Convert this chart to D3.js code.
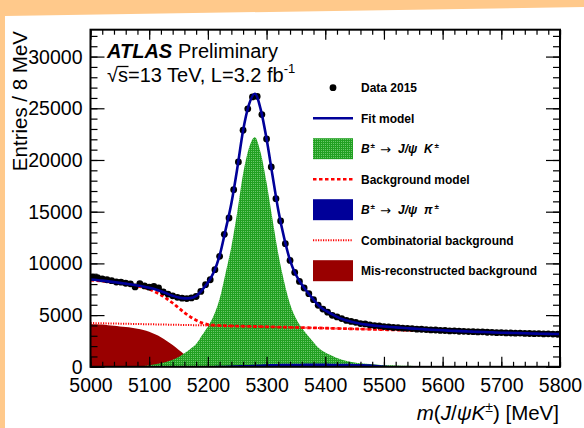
<!DOCTYPE html>
<html>
<head>
<meta charset="utf-8">
<script src="https://cdn.jsdelivr.net/npm/d3@7"></script>
<style>
  body { margin: 0; background: #ffc98b; }
  svg { display: block; font-family: "Liberation Sans", Arial, Helvetica, sans-serif; }
</style>
</head>
<body>
<svg id="chart" width="584" height="428"></svg>
<script>
// ---- data ----
// histogram: 100 bins of 8 MeV, centres 5004 ... 5796
var binCentres = d3.range(5004, 5800, 8);
var dataCounts = [8680, 8620, 8500, 8420, 8330, 8200, 8180, 8080, 8020, 7720,
    8050, 7820, 7700, 7780, 7620, 7250, 7030, 6860, 6720, 6640,
    6600, 6660, 6800, 7290, 7940, 8420, 9390, 10680, 12810, 14390,
    17130, 19810, 22880, 24950, 26100, 26150, 24390, 22040, 19330, 16260,
    14100, 11910, 10290, 9130, 8260, 7620, 7070, 6490, 5950, 5580,
    5280, 4980, 4820, 4660, 4480, 4390, 4300, 4180, 4150, 4050,
    3990, 3960, 3890, 3860, 3800, 3790, 3740, 3720, 3700, 3640,
    3630, 3600, 3570, 3560, 3520, 3510, 3470, 3480, 3440, 3430,
    3410, 3400, 3370, 3380, 3340, 3330, 3300, 3310, 3280, 3270,
    3250, 3260, 3230, 3220, 3200, 3210, 3180, 3190, 3160, 3150];

// model curves sampled every 10 MeV, 5000 ... 5800
var curveMass = d3.range(5000, 5801, 10);
var fitModel = [8450, 8400, 8330, 8260, 8190, 8120, 8040, 7960, 7870, 7770,
    7650, 7500, 7300, 7080, 6870, 6700, 6620, 6640, 6850, 7420,
    8150, 9150, 10750, 13200, 15800, 19150, 22850, 25350, 26400, 24900,
    22050, 18550, 15150, 12450, 10300, 8900, 7950, 7200, 6500, 5850,
    5450, 5130, 4830, 4600, 4420, 4280, 4170, 4080, 4010, 3950,
    3900, 3850, 3810, 3770, 3730, 3690, 3660, 3620, 3590, 3560,
    3530, 3500, 3475, 3450, 3425, 3400, 3380, 3360, 3340, 3320,
    3300, 3285, 3270, 3255, 3240, 3225, 3210, 3195, 3180, 3170,
    3160];
var signalK = [20, 25, 30, 33, 36, 40, 44, 50, 58, 85,
    155, 250, 340, 480, 670, 940, 1300, 1720, 2200, 3050,
    3900, 4950, 6570, 9020, 11620, 14960, 18660, 21150, 22190, 20690,
    17830, 14320, 10930, 8230, 6080, 4700, 3770, 3040, 2380, 1760,
    1390, 1110, 840, 660, 510, 415, 340, 285, 240, 205,
    175, 150, 130, 112, 97, 85, 75, 66, 58, 52,
    47, 43, 40, 37, 34, 32, 30, 28, 26, 24,
    22, 21, 20, 19, 18, 17, 16, 15, 14, 13,
    12];
var signalPi = [0, 0, 0, 0, 0, 0, 0, 0, 0, 0,
    0, 0, 0, 0, 0, 5, 15, 25, 35, 50,
    65, 80, 95, 110, 125, 145, 165, 185, 205, 225,
    245, 260, 275, 285, 295, 300, 305, 308, 310, 310,
    308, 305, 300, 293, 285, 275, 262, 245, 220, 185,
    135, 75, 25, 0, 0, 0, 0, 0, 0, 0,
    0, 0, 0, 0, 0, 0, 0, 0, 0, 0,
    0, 0, 0, 0, 0, 0, 0, 0, 0, 0,
    0];
var combBkg = [4230, 4218, 4207, 4195, 4184, 4172, 4161, 4149, 4138, 4126,
    4115, 4103, 4092, 4080, 4069, 4057, 4046, 4034, 4023, 4011,
    4000, 3987, 3974, 3961, 3948, 3935, 3922, 3909, 3896, 3883,
    3870, 3857, 3844, 3830, 3817, 3804, 3790, 3777, 3763, 3750,
    3736, 3722, 3708, 3694, 3680, 3666, 3652, 3637, 3623, 3609,
    3594, 3580, 3565, 3550, 3536, 3521, 3506, 3491, 3476, 3461,
    3446, 3431, 3416, 3400, 3385, 3370, 3354, 3339, 3323, 3308,
    3292, 3277, 3261, 3245, 3230, 3214, 3198, 3182, 3166, 3150,
    3134];
var misrecBkg = [4150, 4120, 4080, 4030, 3970, 3900, 3840, 3770, 3680, 3560,
    3380, 3140, 2860, 2500, 2100, 1650, 1200, 800, 480, 240,
    90, 40, 15, 5, 0, 0, 0, 0, 0, 0,
    0, 0, 0, 0, 0, 0, 0, 0, 0, 0,
    0, 0, 0, 0, 0, 0, 0, 0, 0, 0,
    0, 0, 0, 0, 0, 0, 0, 0, 0, 0,
    0, 0, 0, 0, 0, 0, 0, 0, 0, 0,
    0, 0, 0, 0, 0, 0, 0, 0, 0, 0,
    0];
// background model = combinatorial + mis-reconstructed
var bkgModel = combBkg.map(function (d, i) { return d + misrecBkg[i]; });

var yTickValues = [0, 5000, 10000, 15000, 20000, 25000, 30000];
var xTickValues = [5000, 5100, 5200, 5300, 5400, 5500, 5600, 5700, 5800];

// ---- svg & scales ----
var svg = d3.select("#chart");

svg.append("polygon")
    .attr("points", "5,16 584,7 584,428 5,428")
    .attr("fill", "#ffffff");

var x = d3.scaleLinear().domain([5000, 5800]).range([90.5, 560]);
var y = d3.scaleLinear().domain([0, 32600]).range([366.8, 29.7]);

var defs = svg.append("defs");
defs.append("clipPath").attr("id", "plotClip")
    .append("rect")
    .attr("x", x(5000)).attr("y", y(32600))
    .attr("width", x(5800) - x(5000)).attr("height", y(0) - y(32600));

// dotted green fill like the ROOT hatch
var pat = defs.append("pattern")
    .attr("id", "greenFill")
    .attr("width", 2).attr("height", 2)
    .attr("patternUnits", "userSpaceOnUse");
pat.append("rect").attr("width", 2).attr("height", 1).attr("fill", "#22a022");
pat.append("rect").attr("y", 1).attr("width", 1).attr("height", 1).attr("fill", "#22a022");
pat.append("rect").attr("x", 1).attr("y", 1).attr("width", 1).attr("height", 1).attr("fill", "#6cc86c");

var plot = svg.append("g").attr("clip-path", "url(#plotClip)");

function areaPath(vals) {
    return d3.area()
        .x(function (d, i) { return x(curveMass[i]); })
        .y0(y(0))
        .y1(function (d) { return y(d); })
        .curve(d3.curveMonotoneX)(vals);
}
function linePath(vals) {
    return d3.line()
        .x(function (d, i) { return x(curveMass[i]); })
        .y(function (d) { return y(d); })
        .curve(d3.curveMonotoneX)(vals);
}

// filled components
plot.append("path").attr("d", areaPath(misrecBkg)).attr("fill", "#990000");
plot.append("path").attr("d", areaPath(signalK)).attr("fill", "url(#greenFill)");
plot.append("path").attr("d", areaPath(signalPi)).attr("fill", "#000099");

// background lines
plot.append("path").attr("d", linePath(combBkg))
    .attr("fill", "none").attr("stroke", "#ff0000")
    .attr("stroke-width", 2).attr("stroke-dasharray", "1.2,1.3");
plot.append("path").attr("d", linePath(bkgModel))
    .attr("fill", "none").attr("stroke", "#ff0000")
    .attr("stroke-width", 2.8).attr("stroke-dasharray", "3.5,2.5");

// data points
var pts = plot.append("g").selectAll("g")
    .data(dataCounts)
    .enter()
    .append("g");
pts.append("line")
    .attr("x1", function (d, i) { return x(binCentres[i]); })
    .attr("x2", function (d, i) { return x(binCentres[i]); })
    .attr("y1", function (d) { return y(d - Math.sqrt(d)); })
    .attr("y2", function (d) { return y(d + Math.sqrt(d)); })
    .attr("stroke", "#000").attr("stroke-width", 1);
pts.append("circle")
    .attr("cx", function (d, i) { return x(binCentres[i]); })
    .attr("cy", function (d) { return y(d); })
    .attr("r", 3.4)
    .attr("fill", "#000");

// fit model
plot.append("path").attr("d", linePath(fitModel))
    .attr("fill", "none").attr("stroke", "#000099").attr("stroke-width", 2.6);

// ---- axes ----
function styleAxis(g) {
    g.select(".domain").remove();
    g.selectAll("line").attr("stroke", "#000").attr("stroke-width", 1.2);
    g.selectAll("text")
        .attr("font-family", "'Liberation Sans', Arial, sans-serif")
        .attr("font-size", 19.5).attr("fill", "#000");
}
var yMinor = d3.range(0, 32600, 1000);
var xMinor = d3.range(5000, 5801, 20);

svg.append("g").attr("transform", "translate(" + x(5000) + ",0)")
    .call(d3.axisLeft(y).tickValues(yMinor).tickSize(-7).tickFormat(""))
    .call(styleAxis);
svg.append("g").attr("transform", "translate(" + x(5000) + ",0)")
    .call(d3.axisLeft(y).tickValues(yTickValues).tickSize(-14).tickPadding(8).tickFormat(d3.format("d")))
    .call(styleAxis)
    .selectAll("text").attr("dy", "0.33em");
svg.append("g").attr("transform", "translate(" + x(5800) + ",0)")
    .call(d3.axisRight(y).tickValues(yMinor).tickSize(-7).tickFormat(""))
    .call(styleAxis);
svg.append("g").attr("transform", "translate(" + x(5800) + ",0)")
    .call(d3.axisRight(y).tickValues(yTickValues).tickSize(-14).tickFormat(""))
    .call(styleAxis);

svg.append("g").attr("transform", "translate(0," + y(0) + ")")
    .call(d3.axisBottom(x).tickValues(xMinor).tickSize(-5).tickFormat(""))
    .call(styleAxis);
svg.append("g").attr("transform", "translate(0," + y(0) + ")")
    .call(d3.axisBottom(x).tickValues(xTickValues).tickSize(-10).tickPadding(11.5).tickFormat(d3.format("d")))
    .call(styleAxis);
svg.append("g").attr("transform", "translate(0," + y(32600) + ")")
    .call(d3.axisTop(x).tickValues(xMinor).tickSize(-5).tickFormat(""))
    .call(styleAxis);
svg.append("g").attr("transform", "translate(0," + y(32600) + ")")
    .call(d3.axisTop(x).tickValues(xTickValues).tickSize(-10).tickFormat(""))
    .call(styleAxis);

// frame
svg.append("rect")
    .attr("x", x(5000)).attr("y", y(32600))
    .attr("width", x(5800) - x(5000)).attr("height", y(0) - y(32600))
    .attr("fill", "none").attr("stroke", "#000").attr("stroke-width", 2);

// axis titles
svg.append("text")
    .attr("transform", "translate(26.5,31) rotate(-90)")
    .attr("text-anchor", "end")
    .attr("font-size", 20.5)
    .text("Entries / 8 MeV");

var xt = svg.append("text")
    .attr("x", 559).attr("y", 420)
    .attr("text-anchor", "end")
    .attr("font-size", 20.5);
xt.append("tspan").attr("font-style", "italic").text("m");
xt.append("tspan").text("(");
xt.append("tspan").attr("font-style", "italic").text("J");
xt.append("tspan").text("/");
xt.append("tspan").attr("font-style", "italic").text("ψ");
xt.append("tspan").attr("font-style", "italic").text("K");
xt.append("tspan").attr("font-size", 14).attr("dy", -8).text("±");
xt.append("tspan").attr("dy", 8).text(") [MeV]");

// ATLAS label
var atl = svg.append("text").attr("x", 107).attr("y", 58).attr("font-size", 20);
atl.append("tspan").attr("font-weight", "bold").attr("font-style", "italic").text("ATLAS");
atl.append("tspan").attr("x", 178).text("Preliminary");

var lumi = svg.append("text").attr("x", 107).attr("y", 82).attr("font-size", 20);
lumi.append("tspan").text("√s=13 TeV, L=3.2 fb");
lumi.append("tspan").attr("font-size", 13).attr("dy", -9).text("-1");
var w0 = lumi.node().getSubStringLength(0, 1),
    w1 = lumi.node().getSubStringLength(1, 1);
svg.append("line")
    .attr("x1", 107 + w0 - 0.5).attr("x2", 107 + w0 + w1 + 0.5)
    .attr("y1", 66.5).attr("y2", 66.5)
    .attr("stroke", "#000").attr("stroke-width", 1.3);

// ---- legend ----
var legendRows = [87.7, 118.2, 148.7, 179.2, 209.7, 240.2, 270.7];
var lg = svg.append("g").attr("font-size", 12).attr("font-weight", "bold");

lg.append("circle").attr("cx", 333).attr("cy", legendRows[0]).attr("r", 3.4).attr("fill", "#000");
lg.append("text").attr("x", 361).attr("y", legendRows[0] + 4.3).text("Data 2015");

lg.append("line").attr("x1", 313).attr("x2", 353)
    .attr("y1", legendRows[1]).attr("y2", legendRows[1])
    .attr("stroke", "#000099").attr("stroke-width", 2.6);
lg.append("text").attr("x", 361).attr("y", legendRows[1] + 4.3).text("Fit model");

lg.append("rect").attr("x", 313).attr("y", legendRows[2] - 10.5)
    .attr("width", 40).attr("height", 21).attr("fill", "url(#greenFill)");

lg.append("line").attr("x1", 313).attr("x2", 353)
    .attr("y1", legendRows[3]).attr("y2", legendRows[3])
    .attr("stroke", "#ff0000").attr("stroke-width", 2.6).attr("stroke-dasharray", "3.5,2.5");
lg.append("text").attr("x", 361).attr("y", legendRows[3] + 4.3).text("Background model");

lg.append("rect").attr("x", 313).attr("y", legendRows[4] - 10.5)
    .attr("width", 40).attr("height", 21).attr("fill", "#000099");

lg.append("line").attr("x1", 313).attr("x2", 353)
    .attr("y1", legendRows[5]).attr("y2", legendRows[5])
    .attr("stroke", "#ff0000").attr("stroke-width", 2).attr("stroke-dasharray", "1.2,1.3");
lg.append("text").attr("x", 361).attr("y", legendRows[5] + 4.3).text("Combinatorial background");

lg.append("rect").attr("x", 313).attr("y", legendRows[6] - 10.5)
    .attr("width", 40).attr("height", 21).attr("fill", "#990000");
lg.append("text").attr("x", 361).attr("y", legendRows[6] + 4.3).text("Mis-reconstructed background");

// decay labels
function decayLabel(row, last) {
    var by = legendRows[row] + 4.3;
    var t = lg.append("text").attr("y", by);
    t.append("tspan").attr("x", 361).attr("font-style", "italic").text("B");
    t.append("tspan").attr("x", 370.5).attr("y", by - 5).attr("font-size", 8).text("±");
    t.append("tspan").attr("x", 380).attr("y", by + 0.5).attr("font-weight", "normal")
        .attr("font-family", "'DejaVu Sans', sans-serif").attr("font-size", 13).text("→");
    t.append("tspan").attr("x", 398).attr("y", by).attr("font-style", "italic").text("J/ψ");
    t.append("tspan").attr("x", 424).attr("font-style", "italic").text(last);
    t.append("tspan").attr("x", 434.5).attr("y", by - 5).attr("font-size", 8).text("±");
}
decayLabel(2, "K");
decayLabel(4, "π");
</script>
</body>
</html>
